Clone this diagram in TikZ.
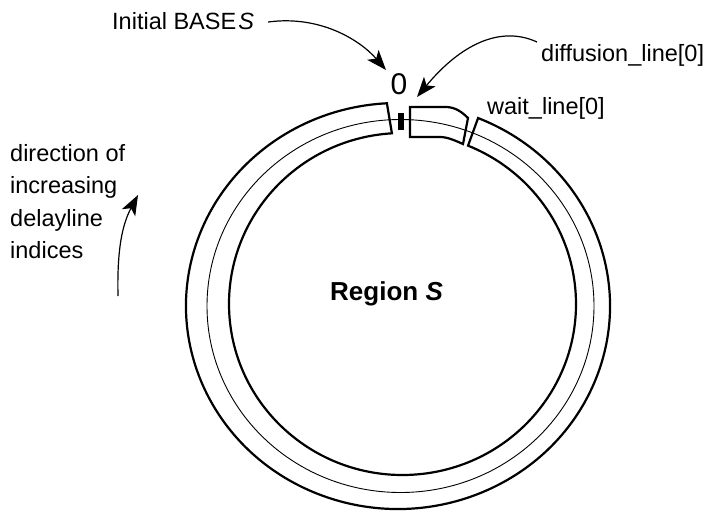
\documentclass[tikz,border=0pt]{standalone}
\usepackage{fontspec}
\setmainfont{Liberation Sans}
\usetikzlibrary{arrows.meta,calc}
\begin{document}
\begin{tikzpicture}[x=1pt,y=-1pt,
  ringline/.style={line width=2.2pt, line join=miter},
  midline/.style={line width=0.9pt},
  pointer/.style={line width=1.2pt, -{Stealth[length=20pt,width=15pt,inset=5pt]}},
  lbl/.style={inner sep=0pt, font=\fontsize{23.5}{32.5}\selectfont},
]
\useasboundingbox (0,0) rectangle (710,512);
% centre line of the delay-line ring
\draw[midline] (400.5,306) ellipse [x radius=193.5, y radius=186.5];
% main ring piece
\coordinate (oS) at ($(398,306)+(-67.8:212 and 203)$);
\coordinate (iE) at ($(402.5,304)+(266.5:173.5 and 171)$);
\draw[ringline] (oS) arc[start angle=-67.8, end angle=267, x radius=212, y radius=203]
  -- (iE) arc[start angle=266.5, end angle=-67.8, x radius=173.5, y radius=171] -- cycle;
% diffusion_line[0] segment
\draw[ringline] (410,107) -- (446,107) .. controls (455,107) and (462,112) .. (468,118)
  -- (463,144) .. controls (456,141) and (448,137) .. (440,137) -- (410,137) -- cycle;
% marker bar
\fill (398,113) rectangle (404,130);
% labels
\node[lbl, anchor=base west] (base) at (112,29) {Initial BASE\hspace{2pt}\textit{S}};
\node[lbl, anchor=base west] (diff) at (541,61) {diffusion\_line[0]};
\node[lbl, anchor=base west] (wait) at (487,114) {wait\_line[0]};
\node[inner sep=0pt, font=\fontsize{30}{30}\selectfont] (zero) at (399,84) {0};
\node[lbl, anchor=base west, font=\fontsize{26}{30}\selectfont\bfseries] (region) at (330,300) {Region \textit{S}};
\node[lbl, anchor=north west, align=left] (dir) at (10,144) {direction of\\increasing\\delayline\\indices};
% arrows
\coordinate (baseTip) at (386,70);
\coordinate (diffTip) at (417,97);
\coordinate (dirStart) at (118,296);
\coordinate (dirTip) at (138,195);
\draw[pointer] ([xshift=14pt]base.east |- 0,22) .. controls (320,15) and (360,40) .. (baseTip);
\draw[pointer] ([xshift=-4pt]diff.west |- 0,42) .. controls (500,25) and (460,45) .. (diffTip);
\draw[pointer] (dirStart) .. controls (117,250) and (122,225) .. (dirTip);
\end{tikzpicture}
\end{document}
